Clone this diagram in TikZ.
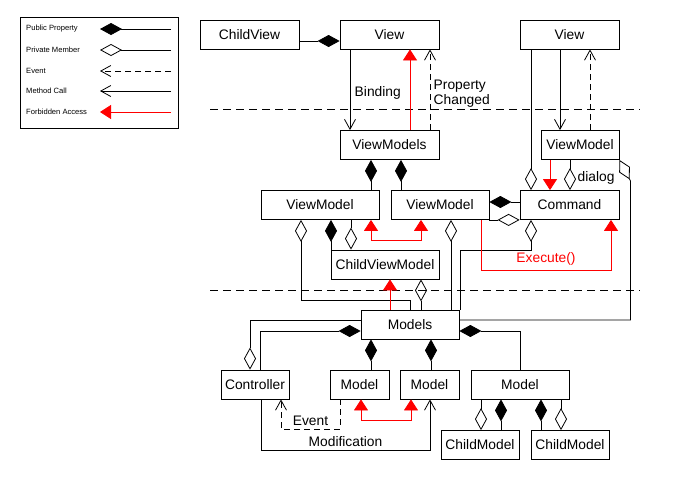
\documentclass[tikz,border=0pt]{standalone}
\usepackage{fontspec}
\setmainfont{Liberation Sans}
\usetikzlibrary{arrows.meta}

\begin{document}
\begin{tikzpicture}[x=1pt, y=-1pt, line width=0.8pt,
		box/.style={draw, inner sep=0pt, minimum height=29pt, font=\fontsize{13.8}{16}\selectfont},
		lbl/.style={font=\fontsize{13.8}{14.7}\selectfont},
		pubprop/.style={-{Diamond[length=22pt,width=12pt]}},
		privmem/.style={-{Diamond[open,length=22pt,width=12pt]}},
		event/.style={dash pattern=on 6pt off 4pt, -{Straight Barb[length=10pt,width=11pt]}},
		call/.style={-{Straight Barb[length=10pt,width=11pt]}},
		forbidden/.style={red, -{Triangle[length=11pt,width=14pt]}},
		forbidboth/.style={red, {Triangle[length=11pt,width=14pt]}-{Triangle[length=11pt,width=14pt]}},
		layer/.style={dash pattern=on 8pt off 5pt}]
		\useasboundingbox (0,0) rectangle (680,490);
		% legend
		\draw (20,17) rectangle (178,128);
		\foreach \y/\txt/\sty in {29/Public Property/pubprop, 50/Private Member/privmem, 71/Event/event, 91/Method Call/call, 112/Forbidden Access/forbidden} {
			\node[anchor=west, font=\fontsize{7.6}{9}\selectfont] (leg\y) at (22.5,\y) {\txt};
			\coordinate (legs\y) at (171,\y);
			\coordinate (lege\y) at (100,\y);
			\draw[\sty] (legs\y) -- (lege\y);
		}
		% layers
		\draw[layer] (210,109) -- (640,109);
		\draw[layer] (210,290) -- (640,290);
		% boxes
		\node[box, minimum width=99pt] (childview) at (249.5,34.5) {ChildView};
		\node[box, minimum width=99pt] (view) at (389.5,34.5) {View};
		\node[box, minimum width=99pt] (viewr) at (569.5,34.5) {View};
		\node[box, minimum width=99pt] (viewmodels) at (389.5,145) {ViewModels};
		\node[box, minimum width=78pt] (vmr) at (580,145) {ViewModel};
		\node[box, minimum width=118pt] (vml) at (320,205) {ViewModel};
		\node[box, minimum width=98pt] (vmm) at (440,205) {ViewModel};
		\node[box, minimum width=99pt] (command) at (569.5,205) {Command};
		\node[box, minimum width=108pt] (childvm) at (385,264.5) {ChildViewModel};
		\node[box, minimum width=98pt] (models) at (410,324.5) {Models};
		\node[box, minimum width=68pt] (controller) at (255,384.5) {Controller};
		\node[box, minimum width=59pt] (model1) at (359.5,384.5) {Model};
		\node[box, minimum width=59pt] (model2) at (429.5,384.5) {Model};
		\node[box, minimum width=98pt] (model3) at (520,384.5) {Model};
		\node[box, minimum width=78pt] (childmodel1) at (480,445) {ChildModel};
		\node[box, minimum width=78pt] (childmodel2) at (570,445) {ChildModel};
		% view layer
		\draw[pubprop] (childview.east |- 0,41) -- (view.west |- 0,41);
		\draw[call] (view.south -| 350,0) -- node[lbl, right=1pt, pos=0.54] {Binding} (viewmodels.north -| 350,0);
		\draw[forbidden] (viewmodels.north -| 410,0) -- (view.south -| 410,0);
		\draw[event] (viewmodels.north -| 430,0) -- node[lbl, right, align=left, pos=0.45] {Property\\Changed} (view.south -| 430,0);
		\draw[privmem] (viewr.south -| 531,0) -- (command.north -| 531,0);
		\draw[call] (viewr.south -| 560,0) -- (vmr.north -| 560,0);
		\draw[event] (vmr.north -| 590,0) -- (viewr.south -| 590,0);
		\draw[forbidden] (vmr.south -| 550,0) -- (command.north -| 550,0);
		\draw[privmem] (vmr.south -| 570,0) -- node[lbl, right=4pt, pos=0.6] {dialog} (command.north -| 570,0);
		\draw[privmem] (models.east |- 0,320) -- (630.5,320) -- (630.5,181) -- (vmr.south east);
		% view model layer
		\draw[pubprop] (vml.north -| 371,0) -- (viewmodels.south -| 371,0);
		\draw[pubprop] (vmm.north -| 401,0) -- (viewmodels.south -| 401,0);
		\draw[pubprop] (command.west |- 0,202) -- (vmm.east |- 0,202);
		\draw[privmem] (vmm.south east) -- (command.south west);
		\draw[privmem] (models.north -| 460,0) -- (460,250) -- (531,250) -- (command.south -| 531,0);
		\draw[forbidden] (vmm.south -| 481,0) -- (481,270) -- node[lbl, above=1pt] {Execute()} (611,270) -- (command.south -| 611,0);
		\draw[privmem] (models.north -| 451,0) -- (vmm.south -| 451,0);
		\draw[privmem] (models.north -| 410,0) -- (410,300) -- (301,300) -- (vml.south -| 301,0);
		\draw[pubprop] (childvm.north -| 331,0) -- (vml.south -| 331,0);
		\draw[privmem] (vml.south -| 351,0) -- (childvm.north -| 351,0);
		\draw[forbidboth] (vml.south -| 371,0) -- (371,240) -- (421,240) -- (vmm.south -| 421,0);
		\draw[forbidden] (models.north -| 390,0) -- (childvm.south -| 390,0);
		\draw[privmem] (models.north -| 421,0) -- (childvm.south -| 421,0);
		% model layer
		\draw[privmem] (models.west |- 0,320) -- (250,320) -- (controller.north -| 250,0);
		\draw[pubprop] (controller.north -| 260,0) -- (260,331) -- (models.west |- 0,331);
		\draw[pubprop] (model1.north -| 371,0) -- (models.south -| 371,0);
		\draw[pubprop] (model2.north -| 431,0) -- (models.south -| 431,0);
		\draw[pubprop] (model3.north) -- (520,331) -- (models.east |- 0,331);
		\draw[forbidboth] (model1.south -| 361,0) -- (361,420) -- (411,420) -- (model2.south -| 411,0);
		\draw[event] (model1.south -| 340,0) -- (340,429) -- node[lbl, above=0pt] {Event} (281,429) -- (controller.south -| 281,0);
		\draw[call] (controller.south -| 261,0) -- (261,450) -- node[lbl, above=0pt] {Modification} (430,450) -- (model2.south -| 430,0);
		\draw[privmem] (model3.south -| 481,0) -- (childmodel1.north -| 481,0);
		\draw[pubprop] (childmodel1.north -| 501,0) -- (model3.south -| 501,0);
		\draw[pubprop] (childmodel2.north -| 541,0) -- (model3.south -| 541,0);
		\draw[privmem] (model3.south -| 561,0) -- (childmodel2.north -| 561,0);
	\end{tikzpicture}
\end{document}
